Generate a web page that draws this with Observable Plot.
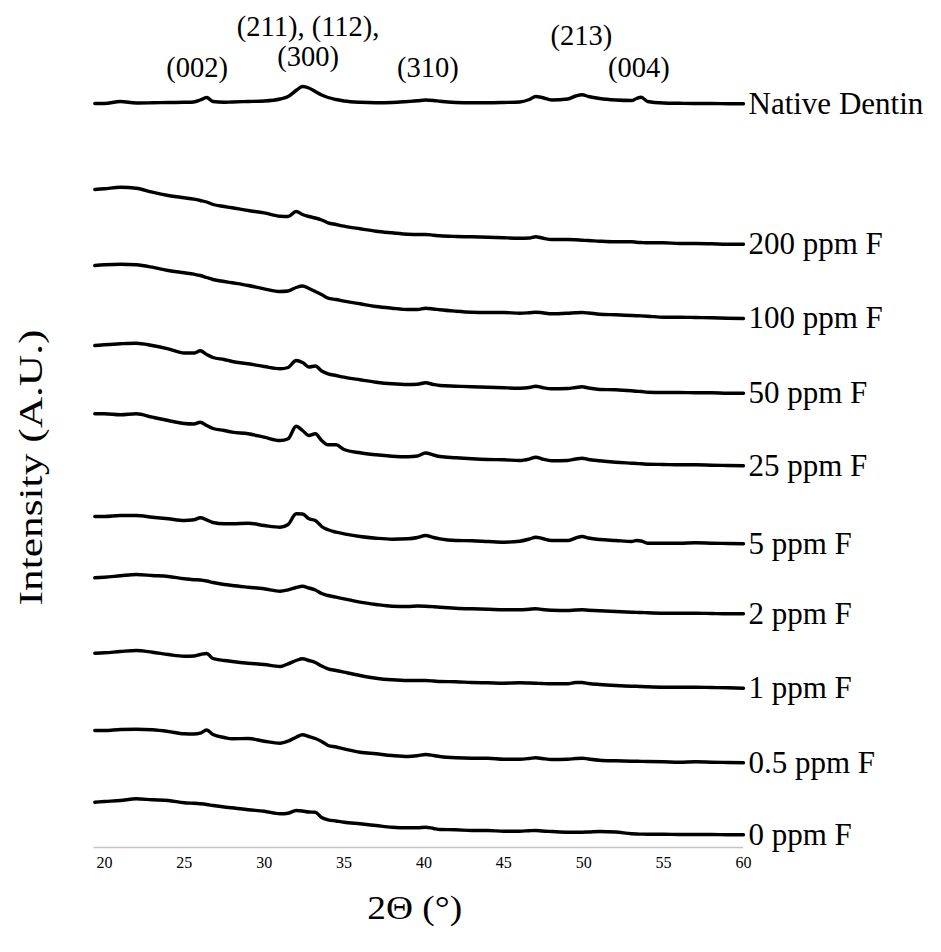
<!DOCTYPE html>
<html>
<head>
<meta charset="utf-8">
<script src="https://cdn.jsdelivr.net/npm/d3@7"></script>
<script src="https://cdn.jsdelivr.net/npm/@observablehq/plot@0.6"></script>
<style>
  html, body { margin: 0; padding: 0; background: #fff; }
  #chart { width: 941px; height: 952px; }
</style>
</head>
<body>
<div id="chart"></div>
<script>
// 2θ sampling grid (degrees)
const twoTheta = [19.4, 20, 21, 22, 23, 24, 25, 25.6, 26.0, 26.4, 26.8, 27.5, 28, 29, 30, 31, 31.5, 32, 32.4, 32.8, 33.2, 33.6, 34, 34.5, 35, 36, 37, 38, 39, 39.6, 40.1, 40.6, 41, 42, 43, 44, 45, 46, 46.6, 47, 47.4, 48, 49, 49.5, 49.9, 50.3, 51, 52, 53, 53.3, 53.6, 54, 55, 56, 57, 58, 59, 60];

// Series names (top to bottom)
const seriesNames = ["Native Dentin", "200 ppm F", "100 ppm F", "50 ppm F", "25 ppm F", "5 ppm F", "2 ppm F", "1 ppm F", "0.5 ppm F", "0 ppm F"];

// Intensities (A.U., stacked as in the figure)
const nativeDentin = [744, 744, 746, 744.5, 744.7, 745, 745.2, 745.5, 747.5, 750, 746, 745.3, 745.5, 746, 746.5, 748.5, 751, 757, 761, 759.5, 756, 752.5, 750, 748, 746.5, 745.2, 744.8, 745, 746, 746.7, 747.5, 747, 746.2, 745, 744.7, 744.7, 745, 745.5, 748, 751, 750, 747.5, 748.5, 751.5, 752.7, 751, 749, 747.5, 747, 749, 750.3, 746, 744.5, 744.2, 744, 744, 743.8, 743.7];
const f200 = [658, 658.7, 660.3, 659.3, 655.3, 652, 649.7, 648.3, 647, 645.5, 643, 641, 639.7, 637, 634.7, 631.3, 631, 636, 633, 631, 629.5, 627.5, 624.7, 623, 621.3, 618.7, 616.3, 614.7, 613.3, 613, 613, 612.3, 611.7, 611, 610.7, 610.3, 609.7, 609.3, 609.5, 610.7, 609.5, 608, 608, 607.7, 607.3, 607, 606.3, 605.7, 605.7, 605.3, 605, 604.7, 604.7, 604, 604, 603.7, 603.3, 603.3];
const f100 = [582, 582.7, 583.3, 582.7, 580.3, 577, 574.7, 573.3, 572, 570, 568, 566, 564.7, 562, 558.7, 556, 556.5, 560, 561.5, 559, 556, 553, 549.3, 548, 546.3, 543.7, 541, 539.3, 538, 538, 539.3, 538.5, 537.7, 536.3, 535.3, 535, 535, 534.3, 534.8, 535.3, 534.8, 533.7, 534.3, 534.8, 535, 534.5, 533.3, 532.7, 532, 531.8, 531.6, 531.3, 530.3, 530.3, 530, 529.7, 529.3, 529];
const f50 = [502, 502.7, 503.7, 504.3, 502, 498.7, 494.5, 494.5, 496.7, 493, 490, 488, 486, 483.7, 481, 478.7, 480, 487, 485, 480.5, 481.5, 476.5, 473.7, 472, 470.3, 467.7, 465.3, 463.7, 463, 463.3, 464.7, 463, 462, 461.3, 460.7, 460.3, 459.7, 459.3, 460, 461.3, 460, 458.7, 459, 460, 460.7, 459.5, 458, 457.7, 456.7, 456.3, 456, 455.3, 455, 455, 454.7, 454.7, 454.3, 454.3];
const f25 = [433.7, 433.7, 432.7, 433.7, 430.3, 427, 424, 423.5, 425.3, 422, 419, 417, 415.3, 413.7, 410.3, 407, 408.7, 421.3, 417, 412, 413.7, 407, 402.7, 402.7, 398, 394.7, 392.7, 391.3, 390.7, 391.5, 394.5, 392.5, 391, 389.7, 388.7, 388, 387.7, 387, 388.5, 390.3, 388.5, 386.7, 387, 388.5, 389.3, 388, 386.7, 385.3, 384.3, 384, 383.8, 383.3, 383, 382.7, 382.7, 382.3, 382, 381.7];
const f5 = [331, 331, 332, 332, 330.3, 328.7, 327, 327.7, 329.7, 327.7, 325, 323.7, 323.7, 324.3, 322, 320.3, 323, 333.7, 333.5, 328.7, 327, 321, 317.7, 315.3, 313.7, 311, 309.3, 308.3, 308.7, 310, 312, 310, 308.7, 307, 306.7, 306, 305.3, 306.3, 308.5, 310.3, 309, 307, 307, 309.5, 311, 309.5, 308, 307, 306, 307, 306.5, 304.3, 304.3, 304.3, 304.7, 304.3, 304, 303.7];
const f2 = [269.7, 270.3, 271.7, 273, 272, 271, 268.7, 267.8, 267.5, 266.5, 265, 263, 262, 260.3, 258.7, 256.3, 257.7, 260, 261.3, 259.5, 257.5, 254, 252, 250.3, 248.7, 245.3, 243, 241.3, 241, 241.5, 241.3, 240.8, 240.3, 239.3, 238.7, 238.3, 237.7, 237.7, 238.3, 238.7, 238, 237.3, 237, 237.5, 237.7, 237.3, 236.7, 236, 235.3, 235.1, 235, 234.7, 234.3, 234.3, 234.3, 234, 233.7, 233.7];
const f1 = [194.3, 194.7, 196, 197, 195.3, 193, 191.3, 191.5, 193, 194, 189, 187, 186, 184.3, 183, 181, 183.7, 187, 188.7, 187, 185, 181.5, 178.7, 177, 175.3, 172, 169.3, 167.7, 167, 167, 167, 166.5, 166, 165.7, 165, 164.7, 164.3, 164.7, 164.5, 164.3, 164, 163.7, 163.7, 165, 165, 164, 163, 162, 161.3, 161.2, 161, 160.7, 160.3, 160.3, 160.3, 160, 159.7, 159.3];
const f05 = [117, 117, 118, 118.3, 117.7, 116, 113.7, 113.5, 114.3, 117.5, 113, 110, 108.7, 109, 106.3, 104.3, 106.3, 110.3, 112.7, 111, 109, 106, 102, 100.5, 98.7, 95.3, 93.7, 92, 91, 91.8, 93, 92, 91, 89.7, 89.3, 89.3, 88.3, 88.3, 89, 89.7, 89, 88, 88.3, 89, 89.3, 88.5, 87.3, 86.7, 86.3, 86.2, 86.1, 86, 85.7, 85.3, 85.7, 85.3, 85, 84.7];
const f0 = [45.3, 46, 47, 48.7, 47.7, 47, 44.7, 44.2, 43.7, 43, 42, 40.5, 39.7, 37.7, 36.3, 33.7, 34.3, 37, 36.5, 35.5, 35.3, 30, 27.7, 26.5, 25.3, 23.7, 22, 20.3, 19.7, 19.7, 20.3, 19, 18, 17.7, 17, 17, 16.3, 16.3, 16.8, 17, 16.5, 16, 15.3, 15.3, 15.3, 15.5, 16, 15.5, 13.7, 13.5, 13.4, 13.3, 13.3, 13, 13, 13, 12.7, 12.7];

const seriesValues = [nativeDentin, f200, f100, f50, f25, f5, f2, f1, f05, f0];

// Peak (hkl) annotations
const peakLabels = ["(002)", "(211), (112),", "(300)", "(310)", "(213)", "(004)"];
const peakTwoTheta = [25.8, 32.75, 32.75, 40.25, 49.85, 53.45];
const peakLabelIntensity = [780, 821, 791, 780, 812, 780];

// Axis ticks and titles
const xTicks = [20, 25, 30, 35, 40, 45, 50, 55, 60];
const xTitle = "2Θ (°)";
const yTitle = "Intensity (A.U.)";

const data = seriesNames.flatMap((name, k) =>
  twoTheta.map((t, i) => ({theta: t, intensity: seriesValues[k][i], series: name}))
);
const ends = seriesNames.map((name, k) => ({series: name, theta: 60, intensity: seriesValues[k][seriesValues[k].length - 1]}));
const peaks = peakLabels.map((l, i) => ({label: l, theta: peakTwoTheta[i], intensity: peakLabelIntensity[i]}));

const serif = "Liberation Serif, Times New Roman, Tinos, serif";

const chart = Plot.plot({
  width: 941,
  height: 952,
  marginLeft: 93.5,
  marginRight: 198,
  marginTop: 47,
  marginBottom: 105,
  style: {fontFamily: serif, background: "#fff", color: "#000", overflow: "visible"},
  x: {domain: [19.35, 60]},
  y: {domain: [0, 800], axis: null},
  marks: [
    Plot.ruleY([0], {stroke: "#c4c4c4", strokeWidth: 1.5}),
    Plot.axisX(xTicks, {tickSize: 0, tickPadding: 9, fontSize: 16, fontFamily: serif, label: null}),
    Plot.lineY(data, {x: "theta", y: "intensity", z: "series", stroke: "#000", strokeWidth: 3.4, curve: "monotone-x"}),
    Plot.text(ends, {x: "theta", y: "intensity", text: "series", dx: 5, textAnchor: "start", fontSize: 31, fontFamily: serif, fill: "#000"}),
    Plot.text(peaks, {x: "theta", y: "intensity", text: "label", fontSize: 28.5, fontFamily: serif, fill: "#000"}),
    Plot.text([yTitle], {frameAnchor: "left", textAnchor: "middle", lineAnchor: "middle", rotate: -90, dx: -63, dy: 20, fontSize: 33, fontFamily: serif, fill: "#000"}),
    Plot.text([xTitle], {frameAnchor: "bottom", textAnchor: "middle", lineAnchor: "middle", dy: 61, dx: -4, fontSize: 33, fontFamily: serif, fill: "#000"})
  ]
});
document.getElementById("chart").appendChild(chart);

// Widen the axis titles to the proportions seen in the figure
d3.select(chart).selectAll("text")
  .filter(function () { return this.textContent === yTitle; })
  .attr("textLength", 276).attr("lengthAdjust", "spacingAndGlyphs");
d3.select(chart).selectAll("text")
  .filter(function () { return this.textContent === xTitle; })
  .attr("textLength", 95).attr("lengthAdjust", "spacingAndGlyphs");
</script>
</body>
</html>
